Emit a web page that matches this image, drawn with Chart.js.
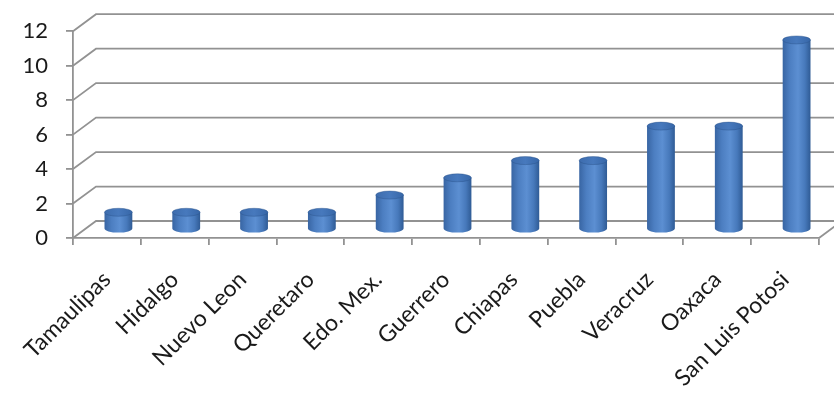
<!DOCTYPE html>
<html>
<head>
<meta charset="utf-8">
<script src="https://cdn.jsdelivr.net/npm/chart.js@4.4.0/dist/chart.umd.min.js"></script>
<style>
  html, body { margin: 0; padding: 0; background: #ffffff; }
  #wrap { width: 834px; height: 399px; }
</style>
</head>
<body>
<div id="wrap"><canvas id="chart" width="834" height="399"></canvas></div>
<script>
// Number of cases per state
const categories = ['Tamaulipas', 'Hidalgo', 'Nuevo Leon', 'Queretaro', 'Edo. Mex.', 'Guerrero',
                    'Chiapas', 'Puebla', 'Veracruz', 'Oaxaca', 'San Luis Potosi'];
const counts = [1, 1, 1, 1, 2, 3, 4, 4, 6, 6, 11];
const yTicks = [0, 2, 4, 6, 8, 10, 12];

// Perspective offset of the back wall relative to the front plane
const DEPTH_X = 23;
const DEPTH_Y = -17;
const GRID_COLOR = '#929292';
const FONT = 'Lato, "Open Sans", sans-serif';

// Back wall, left wall diagonals and floor edge
const wall3d = {
  id: 'wall3d',
  beforeDatasetsDraw(chart) {
    const { ctx, chartArea: a, scales: { y } } = chart;
    ctx.save();
    ctx.strokeStyle = GRID_COLOR;
    ctx.lineWidth = 1.8;
    yTicks.forEach(v => {
      const py = y.getPixelForValue(v);
      ctx.beginPath();
      ctx.moveTo(a.left, py);
      ctx.lineTo(a.left + DEPTH_X, py + DEPTH_Y);
      ctx.lineTo(a.right + DEPTH_X + 40, py + DEPTH_Y);
      ctx.stroke();
    });
    ctx.beginPath();
    ctx.moveTo(a.right, a.bottom);
    ctx.lineTo(a.right + DEPTH_X, a.bottom + DEPTH_Y);
    ctx.stroke();
    ctx.restore();
  },
  afterDatasetsDraw(chart) {
    const { ctx } = chart;
    const meta = chart.getDatasetMeta(0);
    ctx.save();
    meta.data.forEach(bar => {
      const cx = bar.x + DEPTH_X / 2;
      const rx = bar.width / 2;
      const ry = 4;
      const top = bar.y + DEPTH_Y / 2;
      const base = bar.base + DEPTH_Y / 2;

      // body
      const g = ctx.createLinearGradient(cx - rx, 0, cx + rx, 0);
      g.addColorStop(0, '#3865a3');
      g.addColorStop(0.25, '#4c7ec1');
      g.addColorStop(0.55, '#5c8fd2');
      g.addColorStop(0.8, '#4779bb');
      g.addColorStop(1, '#2f5b95');
      ctx.beginPath();
      ctx.moveTo(cx - rx, top);
      ctx.lineTo(cx - rx, base);
      ctx.ellipse(cx, base, rx, ry, 0, Math.PI, 0, true);
      ctx.lineTo(cx + rx, top);
      ctx.closePath();
      ctx.fillStyle = g;
      ctx.fill();

      // top cap
      const gt = ctx.createLinearGradient(cx - rx, 0, cx + rx, 0);
      gt.addColorStop(0, '#3d6cad');
      gt.addColorStop(0.5, '#4779bd');
      gt.addColorStop(1, '#3767a8');
      ctx.beginPath();
      ctx.ellipse(cx, top, rx, ry, 0, 0, Math.PI * 2);
      ctx.fillStyle = gt;
      ctx.fill();
      ctx.strokeStyle = 'rgba(40,80,135,0.5)';
      ctx.lineWidth = 0.8;
      ctx.stroke();
    });
    ctx.restore();
  }
};

new Chart(document.getElementById('chart'), {
  type: 'bar',
  data: {
    labels: categories,
    datasets: [{
      data: counts,
      backgroundColor: 'rgba(0,0,0,0)',
      borderWidth: 0,
      categoryPercentage: 1,
      barPercentage: 0.41
    }]
  },
  options: {
    responsive: false,
    animation: false,
    devicePixelRatio: 1,
    layout: { padding: { top: 28, right: 15, left: 0, bottom: 0 } },
    plugins: { legend: { display: false }, tooltip: { enabled: false } },
    scales: {
      x: {
        offset: true,
        afterFit(scale) { scale.height = 399 - 238; },
        grid: {
          offset: true,
          drawOnChartArea: false,
          drawTicks: true,
          tickLength: 7,
          color: GRID_COLOR,
          lineWidth: 1.8
        },
        border: { display: true, color: GRID_COLOR, width: 1.8 },
        ticks: {
          autoSkip: false,
          maxRotation: 45,
          minRotation: 45,
          padding: 21,
          color: '#1a1a1a',
          font: { family: FONT, size: 23 }
        }
      },
      y: {
        min: 0,
        max: 12,
        afterFit(scale) { scale.width = 73; },
        afterBuildTicks(scale) { scale.ticks = yTicks.map(v => ({ value: v })); },
        grid: {
          drawOnChartArea: false,
          drawTicks: true,
          tickLength: 7,
          color: GRID_COLOR,
          lineWidth: 1.8
        },
        border: { display: true, color: GRID_COLOR, width: 1.8 },
        ticks: {
          padding: 18,
          color: '#1a1a1a',
          font: { family: FONT, size: 22 }
        }
      }
    }
  },
  plugins: [wall3d]
});
</script>
</body>
</html>
